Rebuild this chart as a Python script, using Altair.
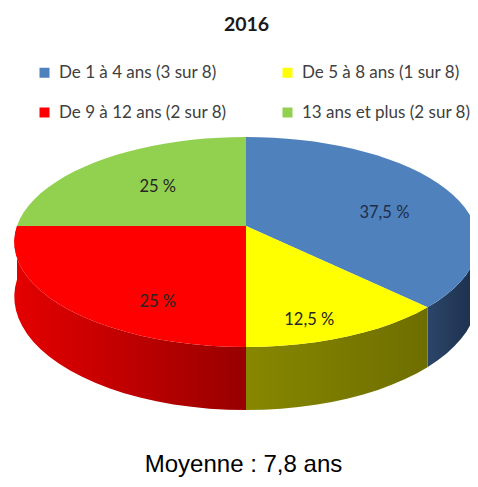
import altair as alt
import numpy as np
import pandas as pd

# ---- data ----
categories = ["De 1 à 4 ans (3 sur 8)", "De 5 à 8 ans (1 sur 8)",
              "De 9 à 12 ans (2 sur 8)", "13 ans et plus (2 sur 8)"]
counts = [3, 1, 2, 2]
percent_labels = ["37,5 %", "12,5 %", "25 %", "25 %"]
title_text = "2016"
note_text = "Moyenne : 7,8 ans"

# ---- styles ----
top_colors = ["#4f81bd", "#ffff00", "#ff0000", "#92d050"]
side_gradients = [["#2b4569", "#1c2f4b"], ["#878700", "#6e6e00"],
                  ["#e40000", "#980000"], ["#6f9e3c", "#5a8230"]]
label_colors = ["#1f2d48", "#262626", "#262626", "#262626"]

W, H = 462, 471
CX, CY = 238, 218          # projected pie centre (plot px)
A, B, K, T = 229, 102.6, 0.1525, 53.4   # perspective ellipse parameters
LCX, LCY, LA, LB = 248, 236.5, 139, 82   # label placement ellipse
NSTEP = 90


def project(theta, r=1.0, z=0.0):
    u = r * np.sin(theta)
    v = r * np.cos(theta)
    d = 1 + K * v
    return CX + A * u / d, CY + (-B * v + T * z) / d


total = float(sum(counts))
ends = np.cumsum(counts) / total * 2 * np.pi
starts = np.concatenate([[0.0], ends[:-1]])

top_rows, side_frames, lab_rows = [], [], []
for cat, a0, a1, lab in zip(categories, starts, ends, percent_labels):
    n = max(4, int(NSTEP * (a1 - a0) / (2 * np.pi)) + 2)
    th = np.linspace(a0, a1, n)
    xs, ys = project(th)
    pts = [(CX, CY)] + list(zip(xs, ys))
    for i, (x, y) in enumerate(pts):
        top_rows.append({"slice": cat, "i": i, "x": x, "y": y})
    # visible side wall (front half)
    s0, s1 = max(a0, np.pi / 2), min(a1, 3 * np.pi / 2)
    rows = []
    if s1 > s0:
        m = max(4, int(NSTEP * (s1 - s0) / (2 * np.pi)) + 2)
        th2 = np.linspace(s0, s1, m)
        tx, ty = project(th2)
        bx, by = project(th2[::-1], z=1.0)
        for i, (x, y) in enumerate(list(zip(tx, ty)) + list(zip(bx, by))):
            rows.append({"slice": cat, "i": i, "x": x, "y": y})
    side_frames.append(pd.DataFrame(rows))
    mid = (a0 + a1) / 2
    lab_rows.append({"slice": cat,
                     "x": LCX + LA * np.sin(mid),
                     "y": LCY - LB * np.cos(mid),
                     "text": lab})

top_df = pd.DataFrame(top_rows)
lab_df = pd.DataFrame(lab_rows)

xscale = alt.Scale(domain=[0, W], range=[0, W], nice=False, zero=False)
yscale = alt.Scale(domain=[0, H], range=[0, H], nice=False, zero=False)
X = alt.X("x:Q", scale=xscale, axis=None)
Y = alt.Y("y:Q", scale=yscale, axis=None)

layers = []
for k, df in enumerate(side_frames):
    if df.empty:
        continue
    g0, g1 = side_gradients[k]
    layers.append(
        alt.Chart(df).mark_line(
            filled=True,
            fill=alt.Gradient(gradient="linear", x1=0, y1=0, x2=1, y2=0,
                              stops=[alt.GradientStop(color=g0, offset=0),
                                     alt.GradientStop(color=g1, offset=1)]),
        ).encode(x=X, y=Y, order=alt.Order("i:Q"))
    )

top = alt.Chart(top_df).mark_line(filled=True, opacity=1).encode(
    x=X, y=Y, order=alt.Order("i:Q"),
    detail="slice:N",
    color=alt.Color(
        "slice:N",
        scale=alt.Scale(domain=categories, range=top_colors),
        legend=alt.Legend(
            title=None, orient="none", legendX=28, legendY=56, columns=2,
            direction="horizontal",
            symbolType="square", symbolSize=100, symbolStrokeWidth=0,
            labelFont="Lato", labelFontSize=17, labelColor="#404040",
            labelOffset=6, columnPadding=52, rowPadding=22, labelLimit=400,
        ),
    ),
)
layers.append(top)

labels = alt.Chart(lab_df).mark_text(font="Lato", fontSize=16.5).encode(
    x=X, y=Y, text="text:N",
    color=alt.Color("slice:N", scale=alt.Scale(domain=categories, range=label_colors), legend=None),
)
layers.append(labels)

title = alt.Chart(pd.DataFrame({"t": [title_text]})).mark_text(
    font="Lato", fontSize=19.5, fontWeight="bold", color="#1a1a1a", baseline="middle"
).encode(x=alt.value(238.5), y=alt.value(17), text="t:N")
note = alt.Chart(pd.DataFrame({"t": [note_text]})).mark_text(
    font="Liberation Sans", fontSize=24, color="#000000", baseline="alphabetic"
).encode(x=alt.value(235.5), y=alt.value(464), text="t:N")
layers += [title, note]

chart = alt.layer(*layers).resolve_scale(color="independent").properties(
    width=W, height=H, padding=0, autosize=alt.AutoSizeParams(type="none"),
    background="white",
).configure_view(stroke=None)

chart.save("out.html", embed_options={"renderer": "svg", "actions": False})
